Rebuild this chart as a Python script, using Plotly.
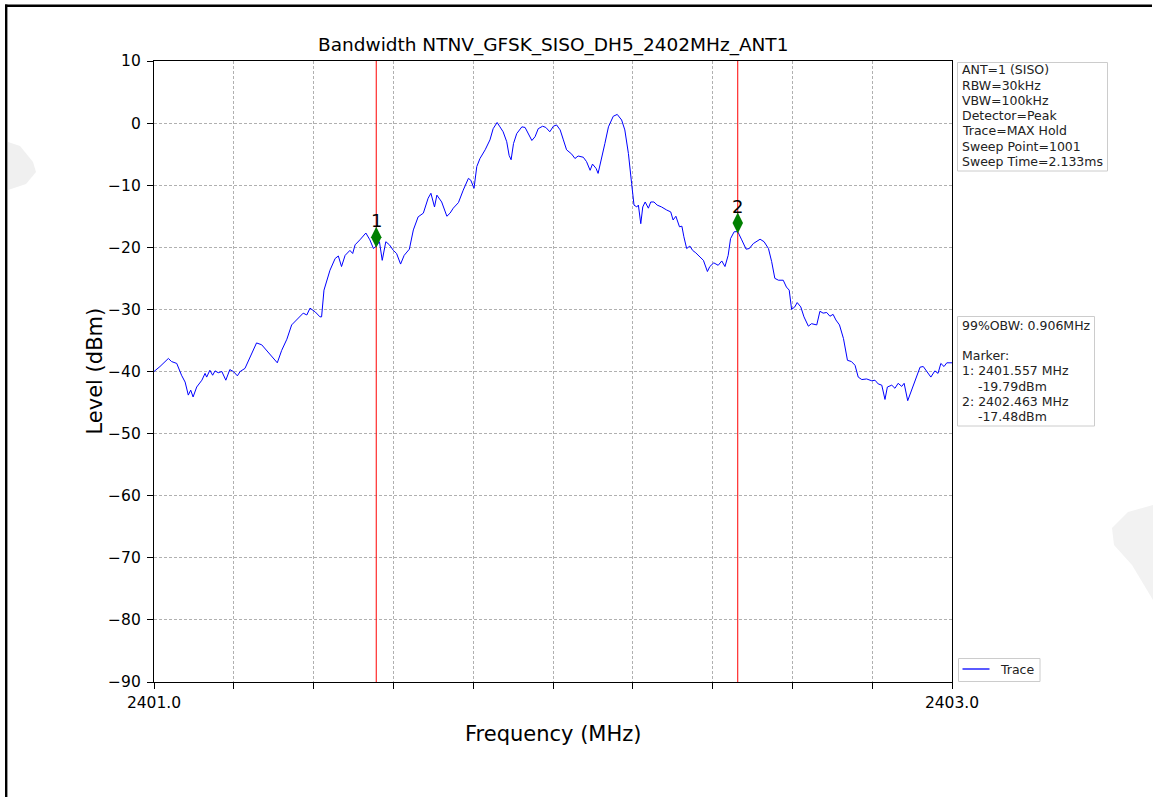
import plotly.graph_objects as go

# ---------------- data ----------------
title_text = "Bandwidth NTNV_GFSK_SISO_DH5_2402MHz_ANT1"

freq_mhz = [
    2401.000, 2401.015, 2401.036, 2401.044, 2401.057, 2401.069, 2401.078, 2401.086, 2401.092, 2401.098,
    2401.107, 2401.120, 2401.128, 2401.132, 2401.140, 2401.147, 2401.153, 2401.161, 2401.170, 2401.180,
    2401.190, 2401.199, 2401.209, 2401.216, 2401.228, 2401.241, 2401.257, 2401.270, 2401.282, 2401.295,
    2401.309, 2401.320, 2401.333, 2401.345, 2401.358, 2401.374, 2401.383, 2401.391, 2401.404, 2401.416,
    2401.420, 2401.426, 2401.441, 2401.454, 2401.462, 2401.470, 2401.479, 2401.484, 2401.491, 2401.498,
    2401.504, 2401.516, 2401.531, 2401.541, 2401.550, 2401.557, 2401.565, 2401.572, 2401.581, 2401.590,
    2401.600, 2401.608, 2401.618, 2401.627, 2401.640, 2401.650, 2401.662, 2401.675, 2401.687, 2401.694,
    2401.703, 2401.709, 2401.721, 2401.734, 2401.742, 2401.750, 2401.763, 2401.775, 2401.788, 2401.794,
    2401.802, 2401.809, 2401.817, 2401.830, 2401.842, 2401.850, 2401.860, 2401.867, 2401.875, 2401.884,
    2401.890, 2401.895, 2401.901, 2401.909, 2401.922, 2401.930, 2401.938, 2401.947, 2401.955, 2401.963,
    2401.974, 2401.982, 2401.992, 2402.001, 2402.009, 2402.018, 2402.026, 2402.034, 2402.047, 2402.055,
    2402.063, 2402.076, 2402.084, 2402.093, 2402.099, 2402.108, 2402.113, 2402.122, 2402.130, 2402.139,
    2402.151, 2402.161, 2402.172, 2402.180, 2402.189, 2402.197, 2402.203, 2402.210, 2402.214, 2402.220,
    2402.225, 2402.231, 2402.239, 2402.245, 2402.253, 2402.261, 2402.272, 2402.285, 2402.295, 2402.301,
    2402.308, 2402.317, 2402.323, 2402.328, 2402.335, 2402.343, 2402.350, 2402.358, 2402.368, 2402.377,
    2402.387, 2402.393, 2402.403, 2402.414, 2402.423, 2402.431, 2402.439, 2402.445, 2402.454, 2402.463,
    2402.473, 2402.484, 2402.492, 2402.502, 2402.519, 2402.529, 2402.540, 2402.548, 2402.556, 2402.565,
    2402.577, 2402.585, 2402.592, 2402.598, 2402.606, 2402.612, 2402.621, 2402.629, 2402.640, 2402.648,
    2402.661, 2402.669, 2402.677, 2402.686, 2402.694, 2402.702, 2402.709, 2402.718, 2402.728, 2402.738,
    2402.748, 2402.757, 2402.765, 2402.774, 2402.786, 2402.799, 2402.807, 2402.815, 2402.824, 2402.832,
    2402.838, 2402.849, 2402.857, 2402.865, 2402.874, 2402.880, 2402.889, 2402.899, 2402.910, 2402.920,
    2402.928, 2402.936, 2402.947, 2402.957, 2402.965, 2402.972, 2402.980, 2402.987, 2402.997, 2403.000,
]

level_dbm = [
    -40.0, -39.2, -37.9, -38.4, -38.7, -40.6, -41.7, -43.8, -43.0, -44.1,
    -42.5, -41.4, -40.3, -40.9, -39.8, -40.6, -39.9, -40.2, -40.0, -41.4,
    -39.7, -40.0, -40.7, -40.0, -39.5, -37.6, -35.4, -35.7, -36.6, -37.4,
    -38.6, -36.6, -34.8, -32.5, -31.6, -30.6, -30.9, -29.8, -30.4, -31.2,
    -31.2, -26.9, -23.7, -21.8, -21.4, -23.1, -21.3, -21.0, -20.5, -21.0,
    -19.6, -18.8, -17.7, -18.8, -20.2, -19.79, -19.1, -22.1, -19.1, -19.6,
    -20.5, -21.0, -22.7, -21.3, -20.3, -17.2, -15.1, -14.5, -12.1, -11.3,
    -13.5, -11.6, -12.7, -15.0, -14.5, -13.7, -12.8, -10.8, -8.9, -9.2,
    -10.5, -7.0, -5.7, -4.3, -2.7, -0.9, 0.1, -0.6, -1.4, -3.0,
    -5.2, -5.9, -3.3, -1.7, -0.6, -0.7, -1.7, -2.8, -2.2, -0.9,
    -0.5, -0.7, -1.4, -0.5, -0.3, -1.1, -2.7, -4.3, -5.0, -5.7,
    -5.3, -5.5, -6.2, -7.6, -6.6, -7.3, -8.1, -5.7, -3.3, -0.6,
    1.1, 1.4, 0.5, -1.1, -4.9, -9.7, -13.2, -13.5, -13.2, -16.2,
    -13.5, -12.7, -13.7, -12.7, -12.7, -13.2, -13.5, -14.0, -14.3, -15.6,
    -15.0, -16.7, -16.6, -18.3, -20.2, -19.8, -20.5, -20.9, -21.5, -22.1,
    -23.9, -23.1, -22.5, -22.9, -22.2, -23.1, -21.3, -18.6, -17.5, -17.48,
    -18.8, -20.3, -20.2, -19.4, -18.7, -19.1, -20.2, -22.3, -25.0, -25.3,
    -25.3, -26.4, -26.9, -30.0, -29.6, -28.9, -29.6, -31.2, -32.7, -32.3,
    -32.5, -30.3, -30.6, -30.5, -31.1, -30.8, -31.7, -32.5, -34.7, -38.2,
    -38.4, -39.0, -40.9, -41.3, -41.2, -41.5, -41.4, -42.0, -42.2, -44.5,
    -42.5, -42.2, -42.7, -41.9, -42.4, -41.9, -44.7, -43.0, -40.9, -39.3,
    -39.2, -40.0, -40.9, -39.9, -40.3, -38.7, -39.2, -38.6, -38.6, -38.6,
]

marker_ids = ["1", "2"]
marker_freq = [2401.557, 2402.463]
marker_level = [-19.79, -17.48]

x_ticks = [2401.0, 2401.2, 2401.4, 2401.6, 2401.8, 2402.0, 2402.2, 2402.4, 2402.6, 2402.8, 2403.0]
x_ticklabels = ["2401.0", "", "", "", "", "", "", "", "", "", "2403.0"]
y_ticks = [-90, -80, -70, -60, -50, -40, -30, -20, -10, 0, 10]
y_ticklabels = ["\u221290", "\u221280", "\u221270", "\u221260", "\u221250", "\u221240",
                "\u221230", "\u221220", "\u221210", "0", "10"]

settings_lines = ["ANT=1 (SISO)", "RBW=30kHz", "VBW=100kHz", "Detector=Peak",
                  "Trace=MAX Hold", "Sweep Point=1001", "Sweep Time=2.133ms"]
obw_lines = ["99%OBW: 0.906MHz", "", "Marker:",
             "1: 2401.557 MHz", "\u00a0\u00a0\u00a0\u00a0-19.79dBm",
             "2: 2402.463 MHz", "\u00a0\u00a0\u00a0\u00a0-17.48dBm"]
legend_label = "Trace"

# ---------------- layout geometry ----------------
W, H = 1153, 797
L, R, T, B = 154, 952, 61, 682   # plot area in pixels
FONT = "DejaVu Sans"
MARKER_OFFSET_DB = 1.4           # diamond drawn slightly above the trace point


def px(xp):
    return (xp - L) / (R - L)


def py(yp):
    return (B - yp) / (B - T)


fig = go.Figure()

fig.add_trace(go.Scatter(
    x=freq_mhz, y=level_dbm, mode="lines", name=legend_label,
    line=dict(color="#0000ff", width=1), showlegend=False, hoverinfo="skip",
))

for f in marker_freq:
    fig.add_trace(go.Scatter(
        x=[f, f], y=[y_ticks[0], y_ticks[-1]], mode="lines",
        line=dict(color="#ff0000", width=1), showlegend=False, hoverinfo="skip",
    ))

fig.add_trace(go.Scatter(
    x=marker_freq, y=[v + MARKER_OFFSET_DB for v in marker_level], mode="markers",
    marker=dict(symbol="diamond-tall", size=15, color="#008000", line=dict(width=0)),
    showlegend=False, hoverinfo="skip",
))

annotations = []
for mid, f, v in zip(marker_ids, marker_freq, marker_level):
    annotations.append(dict(
        x=f, y=v + MARKER_OFFSET_DB, xref="x", yref="y", text=mid, showarrow=False,
        yshift=16.5, xanchor="center", yanchor="middle",
        font=dict(family=FONT, size=18, color="black"),
    ))

# title
annotations.append(dict(
    x=0.5, y=py(45), xref="paper", yref="paper", text=title_text, showarrow=False,
    xanchor="center", yanchor="middle", font=dict(family=FONT, size=18.5, color="black"),
))
# axis titles
annotations.append(dict(
    x=0.5, y=py(734), xref="paper", yref="paper", text="Frequency (MHz)", showarrow=False,
    xanchor="center", yanchor="middle", font=dict(family=FONT, size=21, color="black"),
))
annotations.append(dict(
    x=px(94), y=0.5, xref="paper", yref="paper", text="Level (dBm)", showarrow=False,
    textangle=-90, xanchor="center", yanchor="middle",
    font=dict(family=FONT, size=21, color="black"),
))

# info boxes
box_font = dict(family=FONT, size=12.5, color="#222222")
for i, line in enumerate(settings_lines):
    annotations.append(dict(
        x=px(959.5), y=py(70 + i * 15.25), xref="paper", yref="paper", text=line,
        showarrow=False, xanchor="left", yanchor="middle", font=box_font,
    ))
for i, line in enumerate(obw_lines):
    if line == "":
        continue
    annotations.append(dict(
        x=px(959.5), y=py(325 + i * 15.25), xref="paper", yref="paper", text=line,
        showarrow=False, xanchor="left", yanchor="middle", font=box_font,
    ))
annotations.append(dict(
    x=px(998), y=py(669.5), xref="paper", yref="paper", text=legend_label,
    showarrow=False, xanchor="left", yanchor="middle", font=box_font,
))

shapes = []
box_style = dict(type="rect", xref="paper", yref="paper",
                 line=dict(color="#cccccc", width=1), fillcolor="white", layer="above")
shapes.append(dict(box_style, x0=px(957.5), x1=px(1107.5), y0=py(62.5), y1=py(171)))
shapes.append(dict(box_style, x0=px(957.5), x1=px(1094.5), y0=py(316.5), y1=py(426)))
shapes.append(dict(box_style, x0=px(958.5), x1=px(1040), y0=py(658.5), y1=py(681.5)))
shapes.append(dict(type="line", xref="paper", yref="paper",
                   x0=px(962.5), x1=px(989.5), y0=py(669), y1=py(669),
                   line=dict(color="#0000ff", width=1.3), layer="above"))

# figure frame (top and left edges)
shapes.append(dict(type="line", xref="paper", yref="paper",
                   x0=px(5), x1=px(1152), y0=py(5.8), y1=py(5.8),
                   line=dict(color="black", width=2.4)))
shapes.append(dict(type="line", xref="paper", yref="paper",
                   x0=px(6.2), x1=px(6.2), y0=py(4.6), y1=py(797),
                   line=dict(color="black", width=2.4)))

# faint watermark fragments at the edges
def path_from(points):
    parts = []
    for k, (xp, yp) in enumerate(points):
        parts.append(("M" if k == 0 else "L") + f" {px(xp):.5f},{py(yp):.5f}")
    return " ".join(parts) + " Z"

shapes.append(dict(type="path", xref="paper", yref="paper",
                   path=path_from([(8, 142), (20, 146), (33, 162), (36, 172), (26, 184), (8, 190)]),
                   fillcolor="#f0f0f0", line=dict(width=0), layer="below"))
shapes.append(dict(type="path", xref="paper", yref="paper",
                   path=path_from([(1153, 505), (1128, 512), (1112, 528), (1114, 545),
                                   (1132, 565), (1153, 600)]),
                   fillcolor="#f2f2f2", line=dict(width=0), layer="below"))

axis_common = dict(
    showline=True, linecolor="black", linewidth=1.3, mirror=True,
    ticks="outside", ticklen=6, tickwidth=1.2, tickcolor="black",
    showgrid=True, gridcolor="#b0b0b0", gridwidth=0.8, griddash="3px,2px",
    zeroline=False, tickfont=dict(family=FONT, size=15.5, color="black"),
)

fig.update_layout(
    width=W, height=H, autosize=False,
    margin=dict(l=L, r=W - R, t=T, b=H - B, pad=0),
    paper_bgcolor="white", plot_bgcolor="white",
    font=dict(family=FONT, color="black"),
    xaxis=dict(axis_common, range=[x_ticks[0], x_ticks[-1]], tickmode="array",
               tickvals=x_ticks, ticktext=x_ticklabels),
    yaxis=dict(axis_common, range=[y_ticks[0], y_ticks[-1]], tickmode="array",
               tickvals=y_ticks, ticktext=y_ticklabels, ticklabelstandoff=3),
    annotations=annotations, shapes=shapes, showlegend=False,
)

fig.write_html(
    "out.html",
    config={"displayModeBar": False},
    post_script="document.body.style.margin='0px';document.body.style.overflow='hidden';",
)
